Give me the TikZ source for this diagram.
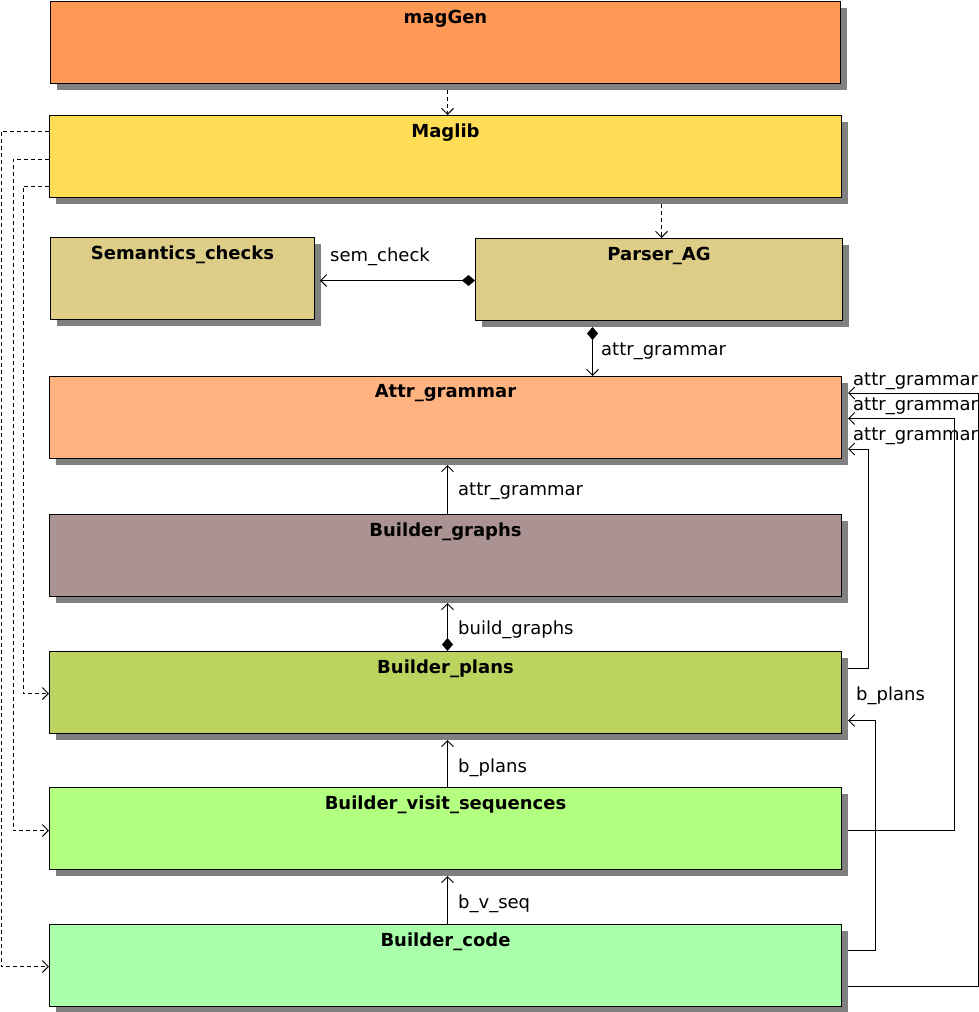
\documentclass[tikz,border=0pt]{standalone}
\usepackage{fontspec}
\setmainfont{DejaVu Sans}
\usetikzlibrary{arrows.meta,shadows,calc}

\definecolor{cMagGen}{HTML}{FF9955}
\definecolor{cMaglib}{HTML}{FFDD55}
\definecolor{cParser}{HTML}{DECD87}
\definecolor{cAttr}{HTML}{FFB380}
\definecolor{cGraphs}{HTML}{AC9393}
\definecolor{cPlans}{HTML}{BCD35F}
\definecolor{cVisit}{HTML}{B3FF80}
\definecolor{cCode}{HTML}{AAFFAA}

\begin{document}
\begin{tikzpicture}[x=1pt,y=-1pt,
  txt/.style={font=\fontsize{18}{21}\selectfont, inner sep=0pt},
  box/.style={draw=black, line width=1pt, inner sep=0pt, anchor=north west,
    minimum height=82pt,
    drop shadow={shadow xshift=6pt, shadow yshift=-6pt, fill=black!50, opacity=1}},
  ttl/.style={txt, font=\fontsize{18}{21}\selectfont\bfseries},
  lbl/.style={txt, anchor=west},
  conn/.style={line width=1pt, draw=black},
  open/.style={-{Straight Barb[length=6pt,width=12pt]}},
  dep/.style={conn, dash pattern=on 4pt off 3pt, open},
  comp/.style={conn, {Diamond[length=13pt,width=11pt]}-{Straight Barb[length=6pt,width=12pt]}},
]
\useasboundingbox (0,0) rectangle (979,1012);

% modules
\node[box, fill=cMagGen, minimum width=790pt] (mg) at (50,1) {};
\node[box, fill=cMaglib, minimum width=792pt] (ml) at (49,115) {};
\node[box, fill=cParser, minimum width=264pt] (sc) at (50,237) {};
\node[box, fill=cParser, minimum width=367pt] (pa) at (475,238) {};
\node[box, fill=cAttr,   minimum width=792pt] (at) at (49,376) {};
\node[box, fill=cGraphs, minimum width=792pt] (bg) at (49,514) {};
\node[box, fill=cPlans,  minimum width=792pt] (pl) at (49,651) {};
\node[box, fill=cVisit,  minimum width=792pt] (vs) at (49,787) {};
\node[box, fill=cCode,   minimum width=792pt] (cd) at (49,924) {};

% titles
\node[ttl] (mgT) at ($(mg.north)+(0,17.5)$) {magGen};
\node[ttl] (mlT) at ($(ml.north)+(0,17.5)$) {Maglib};
\node[ttl] (scT) at ($(sc.north)+(0,17.5)$) {Semantics\_checks};
\node[ttl] (paT) at ($(pa.north)+(0,17.5)$) {Parser\_AG};
\node[ttl] (atT) at ($(at.north)+(0,17.5)$) {Attr\_grammar};
\node[ttl] (bgT) at ($(bg.north)+(0,17.5)$) {Builder\_graphs};
\node[ttl] (plT) at ($(pl.north)+(0,17.5)$) {Builder\_plans};
\node[ttl] (vsT) at ($(vs.north)+(0,17.5)$) {Builder\_visit\_sequences};
\node[ttl] (cdT) at ($(cd.north)+(0,17.5)$) {Builder\_code};

% dependencies
\draw[dep] ($(mg.south)+(2,6)$) -- ($(ml.north)+(2,0)$);
\draw[dep] ($(ml.south)+(216,6)$) -- ($(pa.north)+(2.5,0)$);
\draw[dep] ($(ml.north west)+(0,16)$) -- ++(-48,0) |- ($(cd.west)+(0,1)$);
\draw[dep] ($(ml.north west)+(0,44)$) -- ++(-36,0) |- ($(vs.west)+(0,2)$);
\draw[dep] ($(ml.north west)+(0,71)$) -- ++(-26,0) |- ($(pl.west)+(0,1)$);

% compositions and uses
\draw[comp] ($(pa.west)+(0,1)$) -- ($(sc.east)+(5,2)$);
\node[txt] (semL) at (380,256.5) {sem\_check};

\draw[comp] ($(pa.south)+(-66.5,6)$) -- ($(at.north)+(147,0)$);
\node[lbl] (paL) at (601,351.5) {attr\_grammar};

\draw[conn, open] ($(bg.north)+(2,0)$) -- ($(at.south)+(2,6)$);
\node[lbl] (bgL) at (458,491.5) {attr\_grammar};

\draw[comp] ($(pl.north)+(2,0)$) -- ($(bg.south)+(2,6)$);
\node[lbl] (plL) at (458,629.5) {build\_graphs};

\draw[conn, open] ($(vs.north)+(2,0)$) -- ($(pl.south)+(2,6)$);
\node[lbl] (vsL) at (458,767.5) {b\_plans};

\draw[conn, open] ($(cd.north)+(2,0)$) -- ($(vs.south)+(2,6)$);
\node[lbl] (cdL) at (458,903.5) {b\_v\_seq};

% feedback links on the right
\draw[conn, open] ($(pl.north east)+(6,17)$) -- ++(20,0) |- ($(at.south east)+(6,-10)$);
\draw[conn, open] ($(vs.east)+(6,2)$) -- ++(106,0) |- ($(at.east)+(6,1)$);
\draw[conn, open] ($(cd.south east)+(6,-21)$) -- ++(130,0) |- ($(at.north east)+(6,17)$);
\draw[conn, open] ($(cd.north east)+(6,26)$) -- ++(27,0) |- ($(pl.east)+(6,28)$);

\node[lbl] (r1) at (853,381.5) {attr\_grammar};
\node[lbl] (r2) at (853,406.5) {attr\_grammar};
\node[lbl] (r3) at (853,436.5) {attr\_grammar};
\node[lbl] (r4) at (856,695.5) {b\_plans};

\end{tikzpicture}
\end{document}
